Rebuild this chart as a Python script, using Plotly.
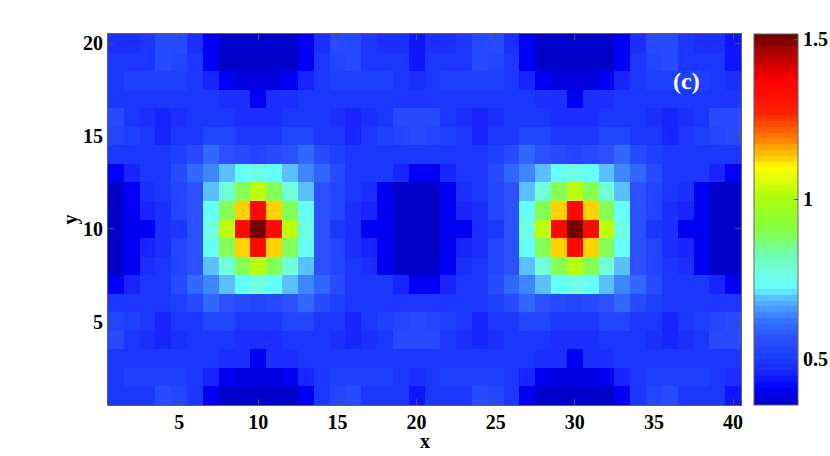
import plotly.graph_objects as go

# Cell values, one list per y row, x = 1..40
row_01 = [.49,.49,.50,.545,.53,.49,.41,.365,.365,.365,.365,.365,.41,.49,.53,.545,.50,.49,.49,.44,.49,.49,.50,.545,.53,.49,.41,.365,.365,.365,.365,.365,.41,.49,.53,.545,.50,.49,.49,.44]
row_02 = [.50,.51,.51,.51,.51,.49,.46,.41,.39,.39,.39,.41,.46,.49,.51,.51,.51,.51,.50,.47,.50,.51,.51,.51,.51,.49,.46,.41,.39,.39,.39,.41,.46,.49,.51,.51,.51,.51,.50,.47]
row_03 = [.50,.50,.49,.49,.50,.50,.49,.47,.47,.41,.47,.47,.49,.50,.50,.49,.49,.50,.50,.50,.50,.50,.49,.49,.50,.50,.49,.47,.47,.41,.47,.47,.49,.50,.50,.49,.49,.50,.50,.50]
row_04 = [.54,.50,.48,.46,.47,.50,.50,.50,.48,.47,.48,.50,.50,.50,.47,.46,.48,.50,.54,.545,.54,.50,.48,.46,.47,.50,.50,.50,.48,.47,.48,.50,.50,.50,.47,.46,.48,.50,.54,.545]
row_05 = [.525,.51,.49,.46,.49,.50,.53,.52,.50,.49,.50,.52,.53,.50,.49,.46,.49,.51,.525,.55,.525,.51,.49,.46,.49,.50,.53,.52,.50,.49,.50,.52,.53,.50,.49,.46,.49,.51,.525,.55]
row_06 = [.50,.50,.50,.50,.51,.55,.60,.56,.54,.53,.54,.56,.60,.55,.51,.50,.50,.50,.50,.49,.50,.50,.50,.50,.51,.55,.60,.56,.54,.53,.54,.56,.60,.55,.51,.50,.50,.50,.50,.49]
row_07 = [.41,.45,.50,.50,.54,.60,.64,.70,.735,.76,.735,.70,.64,.60,.54,.50,.50,.50,.45,.41,.41,.45,.50,.50,.54,.60,.64,.70,.735,.76,.735,.70,.64,.60,.54,.50,.50,.50,.45,.41]
row_08 = [.365,.41,.47,.50,.53,.57,.70,.775,.895,1.02,.895,.775,.70,.57,.53,.50,.47,.41,.365,.365,.365,.41,.47,.50,.53,.57,.70,.775,.895,1.02,.895,.775,.70,.57,.53,.50,.47,.41,.365,.365]
row_09 = [.365,.40,.46,.48,.52,.56,.735,.895,1.125,1.34,1.125,.895,.735,.56,.52,.48,.46,.40,.365,.365,.365,.40,.46,.48,.52,.56,.735,.895,1.125,1.34,1.125,.895,.735,.56,.52,.48,.46,.40,.365,.365]
row_10 = [.365,.40,.41,.47,.50,.56,.76,1.02,1.34,1.515,1.34,1.02,.76,.56,.50,.47,.41,.40,.365,.365,.365,.40,.41,.47,.50,.56,.76,1.02,1.34,1.515,1.34,1.02,.76,.56,.50,.47,.41,.40,.365,.365]
row_11 = row_09
row_12 = row_08
row_13 = row_07
row_14 = row_06
row_15 = row_05
row_16 = row_04
row_17 = row_03
row_18 = row_02
row_19 = row_01
row_20 = [.47,.48,.50,.54,.54,.48,.41,.365,.365,.365,.365,.365,.41,.48,.54,.54,.50,.48,.47,.44,.47,.48,.50,.54,.54,.48,.41,.365,.365,.365,.365,.365,.41,.48,.54,.54,.50,.48,.47,.44]

x_ticks = [5, 10, 15, 20, 25, 30, 35, 40]
y_ticks = [5, 10, 15, 20]
bar_ticks = [0.5, 1, 1.5]

# Colormap: (value, colour)
cmap_values = [.356, .41, .46, .51, .565, .615, .67, .705, .715, .77, .825, .88, .93, 1.0, 1.10, 1.13, 1.20, 1.27, 1.37, 1.44, 1.516]
cmap_colors = ["#0000c0", "#0000ff", "#1a28ff", "#2040ff", "#2c50ff", "#3070ff", "#50a8ff", "#60d0ff", "#60ffff",
               "#70ffe0", "#70ffb0", "#80ff60", "#90ff30", "#aaff10", "#ffff00", "#ffcc00", "#ff7000", "#ff2000",
               "#ff0000", "#c00000", "#6b0000"]
z_min, z_max = cmap_values[0], cmap_values[-1]
n_bands = 64


def to_rgb(h):
    return [int(h[i:i + 2], 16) for i in (1, 3, 5)]


def band_color(v):
    for i in range(len(cmap_values) - 1):
        if v <= cmap_values[i + 1]:
            f = (v - cmap_values[i]) / (cmap_values[i + 1] - cmap_values[i])
            a, b = to_rgb(cmap_colors[i]), to_rgb(cmap_colors[i + 1])
            return "rgb(%d,%d,%d)" % tuple(round(p + (q - p) * f) for p, q in zip(a, b))
    return cmap_colors[-1]


# Stepped scale so the colorbar shows the bands of the original
colorscale = []
for k in range(n_bands):
    c = band_color(z_min + (k + 0.5) / n_bands * (z_max - z_min))
    colorscale.append([k / n_bands, c])
    colorscale.append([(k + 1) / n_bands, c])

z = [row_01, row_02, row_03, row_04, row_05, row_06, row_07, row_08, row_09, row_10,
     row_11, row_12, row_13, row_14, row_15, row_16, row_17, row_18, row_19, row_20]

serif = "Liberation Serif"
axis_style = dict(
    ticks="inside",
    ticklen=6,
    tickwidth=1,
    tickcolor="#505050",
    showline=True,
    linecolor="#606060",
    linewidth=1,
    mirror="allticks",
    showgrid=False,
    zeroline=False,
    automargin=False,
    tickfont=dict(family=serif, size=20, color="black"),
)

fig = go.Figure(
    go.Heatmap(
        z=z,
        x=list(range(1, 41)),
        y=list(range(1, 21)),
        zmin=z_min,
        zmax=z_max,
        colorscale=colorscale,
        colorbar=dict(
            xref="container",
            x=0.9088,
            xanchor="left",
            xpad=0,
            y=0.5,
            len=1,
            ypad=0,
            thickness=44,
            outlinewidth=1,
            outlinecolor="#606060",
            ticks="inside",
            ticklen=4,
            tickcolor="#505050",
            tickvals=bar_ticks,
            ticktext=["0.5", "1", "1.5"],
            tickfont=dict(family=serif, size=20, color="black"),
        ),
    )
)

fig.add_annotation(x=37.05, y=17.95, text="<b>(c)</b>", showarrow=False,
                   font=dict(family=serif, size=24, color="white"))

# x label sits closer to the tick labels than a plotly axis title can
fig.add_annotation(xref="paper", yref="paper", x=0.5, y=0, yshift=-36, yanchor="middle",
                   text="<b>x</b>", showarrow=False,
                   font=dict(family=serif, size=20, color="black"))

# colorbar ticks on the left edge too, the built-in ones only go on the right
for v in bar_ticks:
    tick_y = (v - z_min) / (z_max - z_min)
    fig.add_shape(type="line", xref="paper", yref="paper", x0=1.0202, x1=1.0265, y0=tick_y, y1=tick_y,
                  line=dict(color="#505050", width=1))

fig.update_xaxes(range=[0.5, 40.5], tickvals=x_ticks, ticklabelstandoff=-1, **axis_style)
fig.update_yaxes(range=[0.5, 20.5], tickvals=y_ticks,
                 title=dict(text="<b>y</b>", font=dict(family=serif, size=20, color="black"), standoff=0),
                 **axis_style)

fig.update_layout(
    width=830,
    height=456,
    margin=dict(l=108, r=88.5, t=34, b=51),
    paper_bgcolor="white",
    plot_bgcolor="white",
    font=dict(family=serif, size=20, color="black", weight="bold"),
)

# default body margin would push the figure 8 px in and clip the colorbar labels
fig.write_html("out.html", config={"displayModeBar": False}, post_script="document.body.style.margin = '0';")
